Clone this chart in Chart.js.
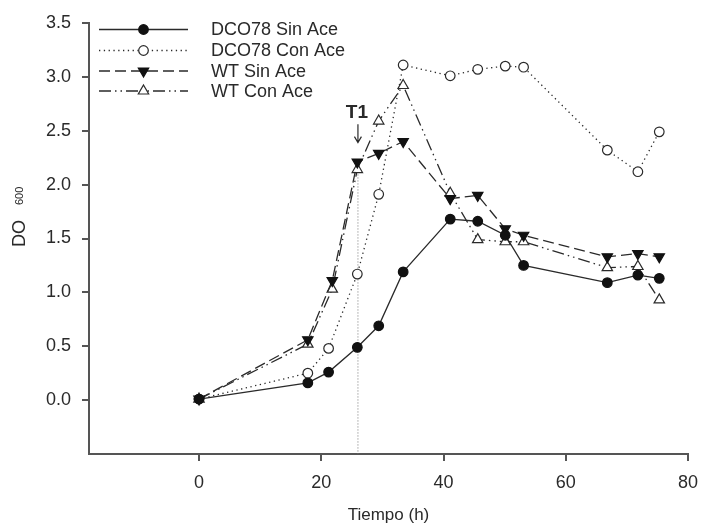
<!DOCTYPE html>
<html>
<head>
<meta charset="utf-8">
<title>DO600 vs Tiempo</title>
<script src="https://cdn.jsdelivr.net/npm/chart.js"></script>
<style>
  html, body { margin: 0; padding: 0; background: #fff; overflow: hidden; }
  #wrap { width: 702px; height: 526px; }
  canvas { display: block; }
</style>
</head>
<body>
<div id="wrap"><canvas id="chart" width="702" height="526"></canvas></div>
<script>
// sampling times (h)
const timesDCO = [0, 17.8, 21.2, 25.9, 29.4, 33.4, 41.1, 45.6, 50.1, 53.1, 66.8, 71.8, 75.3];
const timesWT  = [0, 17.8, 21.8, 25.9, 29.4, 33.4, 41.1, 45.6, 50.1, 53.1, 66.8, 71.8, 75.3];

// DO600 readings
const dcoSinAce = [0.01, 0.16, 0.26, 0.49, 0.69, 1.19, 1.68, 1.66, 1.53, 1.25, 1.09, 1.16, 1.13];
const dcoConAce = [0.01, 0.25, 0.48, 1.17, 1.91, 3.11, 3.01, 3.07, 3.10, 3.09, 2.32, 2.12, 2.49];
const wtSinAce  = [0.01, 0.56, 1.11, 2.21, 2.29, 2.40, 1.87, 1.90, 1.59, 1.53, 1.33, 1.36, 1.33];
const wtConAce  = [0.01, 0.52, 1.03, 2.14, 2.59, 2.92, 1.92, 1.49, 1.47, 1.47, 1.23, 1.24, 0.93];

const seriesNames = ['DCO78 Sin Ace', 'DCO78 Con Ace', 'WT Sin Ace', 'WT Con Ace'];

const xTicks = [0, 20, 40, 60, 80];
const yTicks = [0, 0.5, 1.0, 1.5, 2.0, 2.5, 3.0, 3.5];

const t1Time = 26;

const ink = '#2a2a2a';
const axisColor = '#555';
const font = 'Liberation Sans, Arial, sans-serif';

function toPoints(xs, ys) {
    return xs.map((x, i) => ({ x: x, y: ys[i] }));
}

const datasets = [
    {
        label: seriesNames[0],
        data: toPoints(timesDCO, dcoSinAce),
        borderColor: ink, borderWidth: 1.3, borderDash: [],
        pointStyle: 'circle', pointRadius: 4.8, pointRotation: 0,
        pointBackgroundColor: '#111', pointBorderColor: '#111', pointBorderWidth: 1.2
    },
    {
        label: seriesNames[1],
        data: toPoints(timesDCO, dcoConAce),
        borderColor: ink, borderWidth: 1.3, borderDash: [1.3, 3.5],
        pointStyle: 'circle', pointRadius: 4.8, pointRotation: 0,
        pointBackgroundColor: '#fff', pointBorderColor: ink, pointBorderWidth: 1.2
    },
    {
        label: seriesNames[2],
        data: toPoints(timesWT, wtSinAce),
        borderColor: ink, borderWidth: 1.3, borderDash: [11, 5],
        pointStyle: 'triangle', pointRadius: 6, pointRotation: 180,
        pointBackgroundColor: '#111', pointBorderColor: '#111', pointBorderWidth: 1.2
    },
    {
        label: seriesNames[3],
        data: toPoints(timesWT, wtConAce),
        borderColor: ink, borderWidth: 1.3, borderDash: [12, 4, 1.5, 4, 1.5, 4],
        pointStyle: 'triangle', pointRadius: 6, pointRotation: 0,
        pointBackgroundColor: '#fff', pointBorderColor: ink, pointBorderWidth: 1.2
    }
];

// T1 marker line, behind the data
const t1LinePlugin = {
    id: 't1Line',
    beforeDatasetsDraw(chart) {
        const { ctx, scales } = chart;
        const x = scales.x.getPixelForValue(t1Time);
        ctx.save();
        ctx.strokeStyle = '#777';
        ctx.lineWidth = 1;
        ctx.setLineDash([1, 2]);
        ctx.beginPath();
        ctx.moveTo(x, scales.y.getPixelForValue(2.15));
        ctx.lineTo(x, chart.chartArea.bottom);
        ctx.stroke();
        ctx.restore();
    }
};

// outward tick marks, texts, arrow and legend
const decorPlugin = {
    id: 'decor',
    afterDraw(chart) {
        const { ctx, scales, chartArea } = chart;
        ctx.save();
        ctx.setLineDash([]);

        // tick marks
        ctx.fillStyle = axisColor;
        xTicks.forEach(v => {
            const px = Math.round(scales.x.getPixelForValue(v));
            ctx.fillRect(px - 1, chartArea.bottom, 2, 7);
        });
        yTicks.forEach(v => {
            const py = Math.round(scales.y.getPixelForValue(v));
            ctx.fillRect(chartArea.left - 7, py - 1, 7, 2);
        });

        // T1 label and arrow
        const tx = scales.x.getPixelForValue(t1Time);
        ctx.fillStyle = ink;
        ctx.font = 'bold 19px ' + font;
        ctx.textAlign = 'center';
        ctx.textBaseline = 'middle';
        ctx.fillText('T1', tx - 1, scales.y.getPixelForValue(2.665));
        const a0 = scales.y.getPixelForValue(2.56);
        const a1 = scales.y.getPixelForValue(2.39);
        ctx.strokeStyle = ink;
        ctx.lineWidth = 1.2;
        ctx.beginPath();
        ctx.moveTo(tx, a0);
        ctx.lineTo(tx, a1);
        ctx.moveTo(tx - 3.5, a1 - 6);
        ctx.lineTo(tx, a1);
        ctx.lineTo(tx + 3.5, a1 - 6);
        ctx.stroke();

        // x axis title
        ctx.font = '17px ' + font;
        ctx.fillStyle = ink;
        ctx.textAlign = 'center';
        ctx.textBaseline = 'middle';
        ctx.fillText('Tiempo (h)', (chartArea.left + chartArea.right) / 2, 515);

        // y axis title: DO with small 600
        ctx.save();
        ctx.translate(25, 247);
        ctx.rotate(-Math.PI / 2);
        ctx.textAlign = 'left';
        ctx.textBaseline = 'alphabetic';
        ctx.font = '18px ' + font;
        ctx.fillText('DO', 0, 0);
        ctx.font = '11px ' + font;
        ctx.fillText('600', 42, -2);
        ctx.restore();

        // legend
        const rowsY = [29.5, 50.5, 71, 91];
        const lx0 = 99, lx1 = 188, mx = 143.5, textX = 211;
        datasets.forEach((ds, i) => {
            const y = rowsY[i];
            ctx.strokeStyle = ds.borderColor;
            ctx.lineWidth = ds.borderWidth;
            ctx.setLineDash(ds.borderDash);
            ctx.beginPath();
            ctx.moveTo(lx0, y);
            ctx.lineTo(lx1, y);
            ctx.stroke();
            ctx.setLineDash([]);
            ctx.fillStyle = ds.pointBackgroundColor;
            ctx.strokeStyle = ds.pointBorderColor;
            ctx.lineWidth = ds.pointBorderWidth;
            Chart.helpers.drawPoint(ctx, {
                pointStyle: ds.pointStyle,
                radius: ds.pointRadius,
                rotation: ds.pointRotation,
                borderWidth: ds.pointBorderWidth
            }, mx, y);
            ctx.fillStyle = ink;
            ctx.font = '18px ' + font;
            ctx.textAlign = 'left';
            ctx.textBaseline = 'middle';
            ctx.fillText(ds.label, textX, y + 1);
        });

        ctx.restore();
    }
};

const tickFont = { family: font, size: 18 };

new Chart(document.getElementById('chart'), {
    type: 'scatter',
    data: { datasets: datasets.map(ds => Object.assign({ showLine: true, fill: false, tension: 0 }, ds)) },
    options: {
        responsive: false,
        animation: false,
        layout: { padding: { top: 23, right: 14, left: 0, bottom: 0 } },
        plugins: {
            legend: { display: false },
            tooltip: { enabled: false }
        },
        scales: {
            x: {
                type: 'linear',
                min: -18,
                max: 80,
                afterBuildTicks: axis => { axis.ticks = xTicks.map(v => ({ value: v })); },
                afterFit: scale => { scale.height = 72; scale.paddingLeft = 0; scale.paddingRight = 0; },
                ticks: { font: tickFont, color: ink, padding: 10, maxRotation: 0, autoSkip: false },
                grid: { display: false },
                border: { display: true, color: axisColor, width: 2 }
            },
            y: {
                type: 'linear',
                min: -0.5,
                max: 3.5,
                afterBuildTicks: axis => { axis.ticks = yTicks.map(v => ({ value: v })); },
                afterFit: scale => { scale.width = 89; },
                ticks: { font: tickFont, color: ink, padding: 10, callback: v => v.toFixed(1) },
                grid: { display: false },
                border: { display: true, color: axisColor, width: 2 }
            }
        }
    },
    plugins: [t1LinePlugin, decorPlugin]
});
</script>
</body>
</html>
